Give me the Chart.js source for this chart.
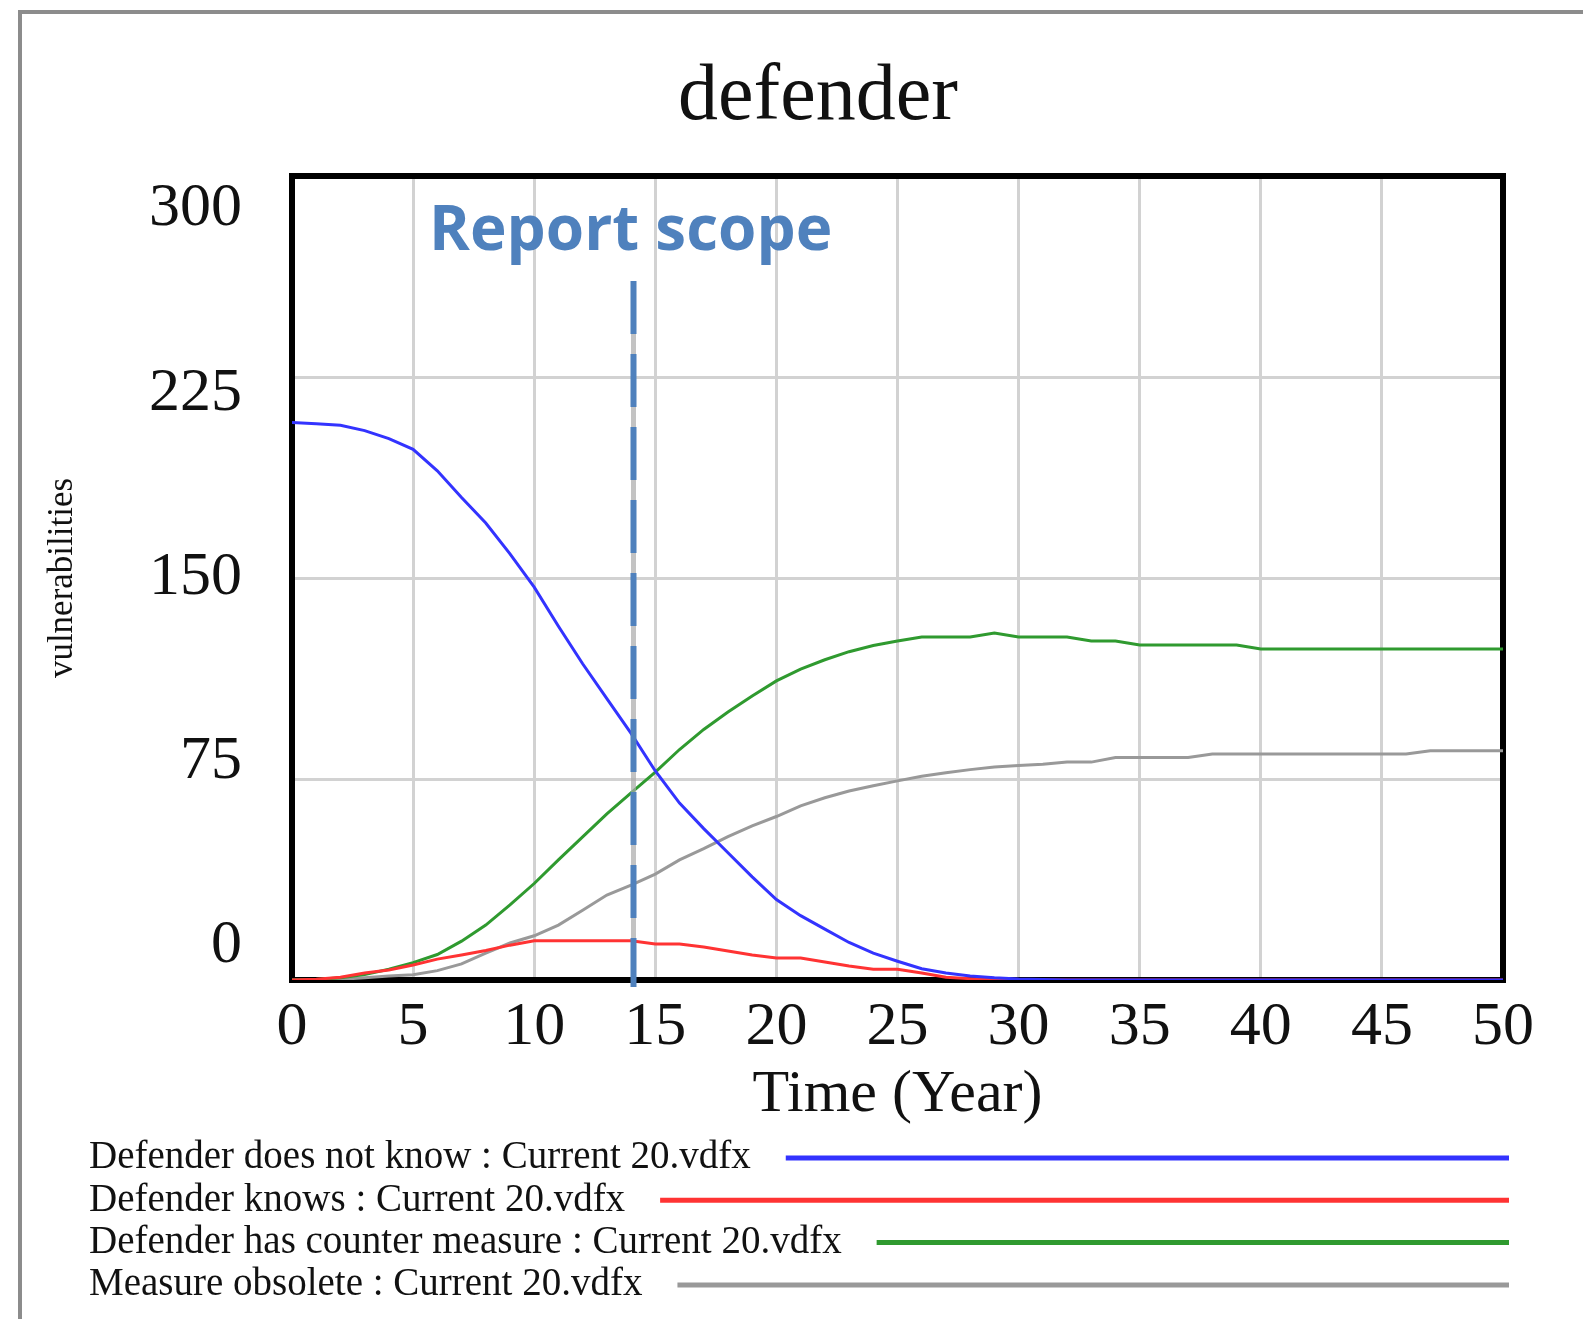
<!DOCTYPE html>
<html>
<head>
<meta charset="utf-8">
<script src="https://cdn.jsdelivr.net/npm/chart.js@4.4.0/dist/chart.umd.min.js"></script>
<style>
  html, body { margin: 0; padding: 0; background: #fff; }
  #wrap { position: relative; width: 1583px; height: 1319px; overflow: hidden; }
  #frame { position: absolute; left: 18px; top: 10px; right: -10px; bottom: -10px;
           border-left: 4px solid #8c8c8c; border-top: 4px solid #8c8c8c; }
  #c { position: absolute; left: 0; top: 0; }
</style>
</head>
<body>
<div id="wrap">
  <div id="frame"></div>
  <canvas id="c" width="1583" height="1319"></canvas>
</div>
<script>
const TITLE = 'defender';
const X_TITLE = 'Time (Year)';
const Y_TITLE = 'vulnerabilities';
const Y_TICKS = [0, 75, 150, 225, 300];
const SCOPE_YEAR = 14.1;
const SCOPE_TEXT = 'Report scope';

const YEARS = [0, 1, 2, 3, 4, 5, 6, 7, 8, 9, 10, 11, 12, 13, 14, 15, 16, 17, 18, 19, 20,
  21, 22, 23, 24, 25, 26, 27, 28, 29, 30, 31, 32, 33, 34, 35, 36, 37, 38, 39, 40,
  41, 42, 43, 44, 45, 46, 47, 48, 49, 50];

const doesNotKnow = [208, 207.6, 207, 205, 202, 198, 190, 180, 170.5, 159, 146.6,
  132, 118, 105, 92, 78, 66, 56.5, 47.5, 38.5, 30,
  24, 19, 14, 10, 7, 4.2, 2.6, 1.5, 0.8, 0.4,
  0.2, 0, 0, 0, 0, 0, 0, 0, 0, 0,
  0, 0, 0, 0, 0, 0, 0, 0, 0, 0];

const knows = [0, 0.3, 1, 2.6, 3.7, 5.6, 7.8, 9.3, 11, 13, 14.6,
  14.6, 14.6, 14.6, 14.6, 13.4, 13.4, 12.3, 10.8, 9.3, 8.2,
  8.2, 6.7, 5.2, 4, 4, 2.6, 1, 0.5, 0.2, 0,
  0, 0, 0, 0, 0, 0, 0, 0, 0, 0,
  0, 0, 0, 0, 0, 0, 0, 0, 0, 0];

const counterMeasure = [0, 0.2, 0.8, 2, 4, 6.5, 9.5, 14.5, 20.5, 28, 36,
  44.8, 53.4, 62, 69.8, 77.6, 86, 93.5, 100, 106, 111.6,
  116, 119.5, 122.5, 124.8, 126.5, 128, 128, 128, 129.5, 128,
  128, 128, 126.5, 126.5, 125, 125, 125, 125, 125, 123.5,
  123.5, 123.5, 123.5, 123.5, 123.5, 123.5, 123.5, 123.5, 123.5, 123.5];

const obsolete = [0, 0, 0.3, 0.8, 1.5, 2, 3.5, 6, 10, 13.8, 16.5,
  20.5, 26, 31.7, 35.4, 39.5, 44.8, 49, 53.5, 57.5, 61,
  65, 68, 70.5, 72.5, 74.3, 76, 77.3, 78.5, 79.5, 80,
  80.5, 81.3, 81.3, 83, 83, 83, 83, 84.3, 84.3, 84.3,
  84.3, 84.3, 84.3, 84.3, 84.3, 84.3, 85.5, 85.5, 85.5, 85.5];

const SERIES = [
  { label: 'Defender does not know : Current 20.vdfx', data: doesNotKnow, color: '#3333ff' },
  { label: 'Defender knows : Current 20.vdfx', data: knows, color: '#ff3333' },
  { label: 'Defender has counter measure : Current 20.vdfx', data: counterMeasure, color: '#2f9a2f' },
  { label: 'Measure obsolete : Current 20.vdfx', data: obsolete, color: '#999999' }
];

const SERIF = '"Liberation Serif", "Times New Roman", serif';
const INK = '#111111';
const GRID = '#d2d2d2';

const extras = {
  id: 'extras',
  beforeDatasetsDraw(chart) {
    const { ctx, chartArea: a } = chart;
    ctx.save();
    ctx.strokeStyle = '#000';
    ctx.lineWidth = 6;
    ctx.strokeRect(a.left, a.top, a.right - a.left, a.bottom - a.top);
    ctx.restore();
  },
  afterDraw(chart) {
    const { ctx, chartArea: a } = chart;
    ctx.save();

    // title
    ctx.fillStyle = INK;
    ctx.font = '80px ' + SERIF;
    ctx.textAlign = 'center';
    ctx.textBaseline = 'alphabetic';
    ctx.fillText(TITLE, 818, 119);

    // report scope marker
    const sx = chart.scales.x.getPixelForValue(SCOPE_YEAR);
    ctx.strokeStyle = 'rgba(170,170,170,0.7)';
    ctx.lineWidth = 5;
    ctx.beginPath();
    ctx.moveTo(sx, a.top + 105);
    ctx.lineTo(sx, a.bottom + 7);
    ctx.stroke();
    ctx.strokeStyle = '#4f81bd';
    ctx.lineWidth = 6;
    ctx.setLineDash([53, 20]);
    ctx.beginPath();
    ctx.moveTo(sx, a.top + 105);
    ctx.lineTo(sx, a.bottom + 7);
    ctx.stroke();
    ctx.setLineDash([]);

    ctx.fillStyle = '#4f81bd';
    ctx.font = 'bold 62px "Open Sans", "Noto Sans", sans-serif';
    ctx.textAlign = 'left';
    ctx.fillText(SCOPE_TEXT, 429, 250);

    // legend
    ctx.font = '39px ' + SERIF;
    ctx.textBaseline = 'middle';
    chart.data.datasets.forEach((ds, i) => {
      const y = 1158 + i * 42.3;
      ctx.fillStyle = INK;
      ctx.fillText(ds.label, 89, y);
      const w = ctx.measureText(ds.label).width;
      ctx.strokeStyle = ds.borderColor;
      ctx.lineWidth = 5;
      ctx.beginPath();
      ctx.moveTo(89 + w + 35, y);
      ctx.lineTo(1509, y);
      ctx.stroke();
    });
    ctx.restore();
  }
};

new Chart(document.getElementById('c'), {
  type: 'line',
  data: {
    datasets: SERIES.map(s => ({
      label: s.label,
      data: YEARS.map((t, i) => ({ x: t, y: s.data[i] })),
      borderColor: s.color,
      backgroundColor: s.color,
      borderWidth: 3,
      pointRadius: 0,
      tension: 0,
      fill: false
    }))
  },
  options: {
    responsive: false,
    animation: false,
    devicePixelRatio: 1,
    layout: { padding: { left: 42, top: 176, right: 80, bottom: 188 } },
    plugins: {
      legend: { display: false },
      title: { display: false },
      tooltip: { enabled: false }
    },
    scales: {
      x: {
        type: 'linear',
        min: 0,
        max: 50,
        grid: { color: GRID, lineWidth: 3, drawTicks: false },
        border: { display: false },
        ticks: { stepSize: 5, autoSkip: false, maxRotation: 0, padding: 11,
                 color: INK, font: { family: SERIF, size: 62 } },
        title: { display: true, text: X_TITLE, color: INK, padding: 0,
                 font: { family: SERIF, size: 60 } },
        afterFit: s => { s.height = 151; }
      },
      y: {
        position: 'left',
        min: 0,
        max: 300,
        grid: { color: GRID, lineWidth: 3, drawTicks: false },
        border: { display: false },
        ticks: { display: false, stepSize: 75 },
        afterFit: s => { s.width = 0; }
      },
      yLabels: {
        position: 'left',
        min: -13.84,
        max: 313.43,
        grid: { display: false, drawTicks: false },
        border: { display: false },
        afterBuildTicks: s => { s.ticks = Y_TICKS.map(v => ({ value: v })); },
        ticks: { padding: 50, color: INK, font: { family: SERIF, size: 62 } },
        title: { display: true, text: Y_TITLE, color: INK, padding: 0,
                 font: { family: SERIF, size: 35 } },
        afterFit: s => { s.width = 250; }
      }
    }
  },
  plugins: [extras]
});
</script>
</body>
</html>
